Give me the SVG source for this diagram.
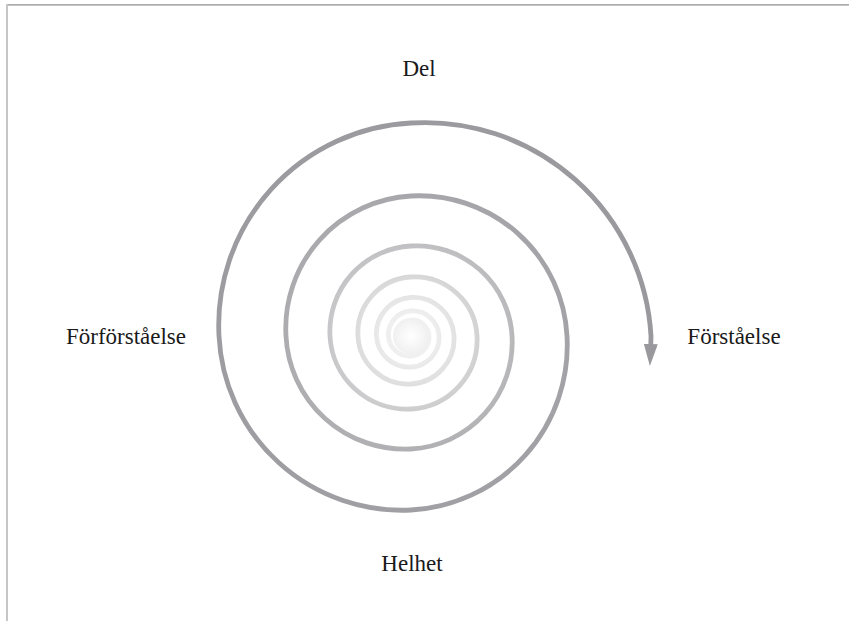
<svg xmlns="http://www.w3.org/2000/svg" width="849" height="621" viewBox="0 0 849 621">
<style>
.lbl{font-family:"Liberation Serif","DejaVu Serif",serif;font-size:23px;fill:#1a1a1a;text-anchor:middle}
.spiral{fill:none;stroke:url(#sg);stroke-width:4.8;stroke-linecap:butt}
</style>
<defs>
<radialGradient id="sg" gradientUnits="userSpaceOnUse" cx="411" cy="336" r="245">
<stop offset="0" stop-color="#f7f7f7"/>
<stop offset="0.1" stop-color="#eeeeee"/>
<stop offset="0.14" stop-color="#e8e8e8"/>
<stop offset="0.21" stop-color="#dedede"/>
<stop offset="0.34" stop-color="#c6c6c8"/>
<stop offset="0.45" stop-color="#b2b2b5"/>
<stop offset="0.6" stop-color="#a5a5a9"/>
<stop offset="0.8" stop-color="#9c9ca0"/>
<stop offset="1" stop-color="#98989d"/>
</radialGradient>
<radialGradient id="cg" cx="0.5" cy="0.5" r="0.5">
<stop offset="0" stop-color="#ffffff"/>
<stop offset="1" stop-color="#f0f0f0"/>
</radialGradient>
<marker id="ah" markerUnits="userSpaceOnUse" markerWidth="22" markerHeight="14" refX="0" refY="7" orient="auto" viewBox="0 0 22 14">
<path d="M0,0 L22,7 L0,14 Z" fill="#98989d"/>
</marker>
</defs>
<g id="frame">
<rect x="6" y="4" width="843" height="1.7" fill="#ababab"/>
<rect x="6" y="4" width="2" height="617" fill="#c6c6c6"/>
</g>
<g id="connectors">
<circle cx="411" cy="336" r="18" fill="url(#cg)"/>
<path id="spiral" class="spiral" marker-end="url(#ah)" d="M411,320
A17,17 0 0 1 429,336
A19,19 0 0 1 411,356
A21.25,21.25 0 0 1 388.5,336
A23.75,23.75 0 0 1 411,311
A26.5,26.5 0 0 1 439,336
A29.5,29.5 0 0 1 411,367
A32.75,32.75 0 0 1 376.5,336
A36.5,36.5 0 0 1 411,297.5
A40.75,40.75 0 0 1 454,336
A45.5,45.5 0 0 1 411,384
A50.5,50.5 0 0 1 358,336
A56,56 0 0 1 411,277
A62.5,62.5 0 0 1 477,336
A69.5,69.5 0 0 1 411,409
A77,77 0 0 1 330,336
A85.5,85.5 0 0 1 411,246
A95.5,95.5 0 0 1 512,336
A107,107 0 0 1 411,449
A119,119 0 0 1 286,336
A132.5,132.5 0 0 1 411,196
A148,148 0 0 1 567,336
A165,165 0 0 1 411,510
A183,183 0 0 1 219,336
A202.5,202.5 0 0 1 411,123
A226.5,226.5 0 0 1 651,336
A240,240 0 0 1 650.8,344"/>
</g>
<g id="node-del"><text class="lbl" x="419" y="76">Del</text></g>
<g id="node-forforstaelse"><text class="lbl" x="126" y="344">Förförståelse</text></g>
<g id="node-forstaelse"><text class="lbl" x="734" y="344">Förståelse</text></g>
<g id="node-helhet"><text class="lbl" x="412" y="571">Helhet</text></g>
</svg>
